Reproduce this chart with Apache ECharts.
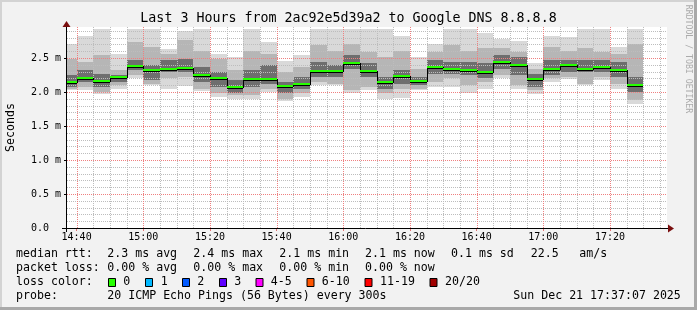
<!DOCTYPE html>
<html><head><meta charset="utf-8">
<script src="https://cdn.jsdelivr.net/npm/echarts@6/dist/echarts.min.js"></script>
<style>html,body{margin:0;padding:0;background:#f2f2f2}#c{width:697px;height:310px}</style>
</head><body><div id="c"></div>
<script>
// ---------- data ----------
const titleText = 'Last 3 Hours from 2ac92e5d39a2 to Google DNS 8.8.8.8';
const binStarts = ['14:35','14:40','14:45','14:50','14:55','15:00','15:05','15:10','15:15','15:20',
  '15:25','15:30','15:35','15:40','15:45','15:50','15:55','16:00','16:05','16:10',
  '16:15','16:20','16:25','16:30','16:35','16:40','16:45','16:50','16:55','17:00',
  '17:05','17:10','17:15','17:20','17:25'];
const viewStart = '14:37:07', viewEnd = '17:37:07';
const xTickLabels = ['14:40','15:00','15:20','15:40','16:00','16:20','16:40','17:00','17:20'];
const yTickValues = [0, 0.5, 1.0, 1.5, 2.0, 2.5];
const yMax = 2.956;
// median rtt (ms)
const medianRtt = [2.147,2.206,2.167,2.220,2.387,2.324,2.338,2.353,2.255,2.206,
  2.076,2.190,2.190,2.088,2.122,2.309,2.309,2.426,2.309,2.147,
  2.235,2.162,2.368,2.338,2.324,2.294,2.441,2.402,2.190,2.338,
  2.402,2.338,2.368,2.324,2.108];
// smoke extents (ms)
const smokeMax = [2.71,2.83,2.93,2.56,2.93,2.93,2.63,2.90,2.93,2.56,
  2.51,2.92,2.74,2.46,2.55,2.93,2.93,2.93,2.93,2.93,
  2.83,2.51,2.70,2.93,2.93,2.87,2.78,2.75,2.43,2.83,
  2.81,2.93,2.93,2.66,2.93];
const smokeMin = [2.025,2.025,1.975,2.04,2.20,2.11,2.04,2.09,2.01,1.93,
  1.90,1.90,2.00,1.87,1.93,2.11,2.10,1.99,2.03,1.90,
  1.91,2.03,2.07,2.07,1.99,2.05,2.20,2.05,1.97,2.14,
  2.19,2.11,2.17,2.05,1.83];
const midHi = [2.49,2.44,2.54,2.32,2.74,2.66,2.56,2.76,2.61,2.49,
  2.32,2.61,2.56,2.29,2.37,2.69,2.61,2.70,2.59,2.51,
  2.61,2.34,2.59,2.69,2.61,2.64,2.64,2.59,2.34,2.66,
  2.61,2.64,2.59,2.56,2.70];
const midLo = [2.05,2.07,2.00,2.10,2.25,2.12,2.20,2.22,2.05,1.98,
  1.95,1.95,2.05,1.90,1.98,2.15,2.12,2.03,2.07,1.98,
  2.05,2.05,2.15,2.20,2.10,2.15,2.25,2.10,2.03,2.20,
  2.22,2.12,2.22,2.12,1.88];
const coreHi = [2.25,2.32,2.27,2.25,2.47,2.39,2.47,2.49,2.37,2.29,
  2.17,2.32,2.39,2.15,2.22,2.44,2.39,2.54,2.42,2.22,
  2.32,2.22,2.47,2.44,2.44,2.42,2.54,2.51,2.27,2.47,
  2.47,2.47,2.47,2.44,2.22];
const coreLo = [2.07,2.15,2.07,2.15,2.32,2.17,2.29,2.29,2.15,2.07,
  1.98,2.07,2.12,1.98,2.05,2.22,2.22,2.34,2.22,2.05,
  2.12,2.10,2.27,2.27,2.25,2.20,2.34,2.25,2.07,2.25,
  2.29,2.29,2.29,2.22,2.00];
const binWidthMin = 5; // 300 s steps
// legend texts
const rttRow = ['median rtt:', '2.3 ms avg', '2.4 ms max', '2.1 ms min', '2.1 ms now', '0.1 ms sd', '22.5', 'am/s'];
const lossRow = ['packet loss:', '0.00 % avg', '0.00 % max', '0.00 % min', '0.00 % now'];
const lossLabels = ['0','1','2','3','4-5','6-10','11-19','20/20'];
const lossColors = ['#26ff00','#00b8ff','#0059ff','#5e00ff','#ff00ff','#ff5500','#ff0000','#a10000'];
const probeRow = ['probe:', '20 ICMP Echo Pings (56 Bytes) every 300s', 'Sun Dec 21 17:37:07 2025'];

// ---------- layout / styles ----------
const FONT = "'DejaVu Sans Mono', monospace";
const colX = [16, 107.3, 193.3, 279.3, 365, 451, 530.7, 579.3];
const probeX = [16, 107.3, 513.3];
const lossBoxX = [108.5, 145.5, 182.5, 219.5, 256, 307, 365, 430];
const lossTextX = [123.3, 160.7, 197.3, 234.3, 270.7, 321.7, 380, 445];
const rowY = [254.3, 268.3, 282.3, 296];

function toMin(s){ const p = s.split(':').map(Number); return (p[0]-14)*60 + p[1] + (p[2]||0)/60; }
function fmtMin(v){ const h = 14 + Math.floor(v/60), m = Math.round(v%60); return h + ':' + (m<10?'0':'') + m; }
const xMin = toMin(viewStart), xMax = toMin(viewEnd);

const smokeData = binStarts.map((s,i)=>[toMin(s), toMin(s)+binWidthMin, smokeMin[i], smokeMax[i], midLo[i], midHi[i], coreLo[i], coreHi[i]]);
const medianData = binStarts.map((s,i)=>[toMin(s), toMin(s)+binWidthMin, medianRtt[i], i>0?medianRtt[i-1]:medianRtt[i]]);

const chart = echarts.init(document.getElementById('c'), null, {renderer:'canvas', width:697, height:310});

function rectBetween(api, x0, x1, lo, hi, fill){
  const a = api.coord([Math.max(x0,xMin), hi]), b = api.coord([Math.min(x1,xMax), lo]);
  const L = Math.round(a[0]), R = Math.round(b[0]), T = Math.round(a[1]), B = Math.round(b[1]);
  return {type:'rect', shape:{x:L, y:T, width:R-L, height:B-T}, style:{fill:fill}};
}

const gridMinorX = [], gridMajorX = [];
for (let m = 40; m < xMax; m += 5) ((m % 20 === 0) ? gridMajorX : gridMinorX).push(m);
const gridMinorY = [], gridMajorY = [];
for (let i = 1; i/10 < yMax; i++) ((i % 5 === 0) ? gridMajorY : gridMinorY).push(i/10);

const option = {
  animation: false,
  backgroundColor: '#f2f2f2',
  grid: {left:67, top:27, width:600, height:201, show:true, backgroundColor:'#ffffff', borderWidth:0,
    containLabel:false, outerBoundsMode:'none'},
  xAxis: {
    type:'value', min:xMin, max:xMax,
    splitLine:{show:false},
    axisLine:{show:false},
    axisTick:{show:true, customValues: xTickLabels.map(toMin), length:3, lineStyle:{color:'#e07070'}},
    axisLabel:{customValues: xTickLabels.map(toMin), formatter: fmtMin, fontFamily:FONT, fontSize:10, color:'#000', margin:4}
  },
  yAxis: {
    type:'value', min:0, max:yMax,
    name:'Seconds', nameLocation:'middle', nameRotate:90, nameGap:50,
    nameTextStyle:{fontFamily:FONT, fontSize:11.6, color:'#000'},
    splitLine:{show:false},
    axisLine:{show:false},
    axisTick:{show:true, customValues: yTickValues, length:3, lineStyle:{color:'#000'}},
    axisLabel:{customValues: yTickValues, align:'left', margin:36, fontFamily:FONT, fontSize:10, color:'#000',
      formatter: v => v === 0 ? '0.0' : v.toFixed(1) + ' m'}
  },
  series: [
    { // smoke
      type:'custom', z:1, clip:true, silent:true,
      encode:{x:[0,1], y:[2,3]},
      data: smokeData,
      renderItem(params, api){
        const x0 = api.value(0), x1 = api.value(1);
        return {type:'group', children:[
          rectBetween(api, x0, x1, api.value(2), api.value(3), '#d9d9d9'),
          rectBetween(api, x0, x1, api.value(4), api.value(5), '#b6b6b6'),
          rectBetween(api, x0, x1, api.value(6), api.value(7), '#6e6e6e')
        ]};
      }
    },
    { // grid
      type:'custom', z:2, silent:true, clip:true,
      encode:{x:0, y:1},
      data: [[xMin, 0]],
      renderItem(params, api){
        const tl = api.coord([xMin, yMax]), br = api.coord([xMax, 0]);
        const ch = [];
        const vline = (v, c) => { const px = Math.round(api.coord([v,0])[0]) + 0.5;
          ch.push({type:'line', shape:{x1:px, y1:tl[1], x2:px, y2:br[1]}, style:{stroke:c, lineWidth:1, lineDash:[1,1]}}); };
        const hline = (v, c) => { const py = Math.round(api.coord([xMin,v])[1]) + 0.5;
          ch.push({type:'line', shape:{x1:tl[0], y1:py, x2:br[0], y2:py}, style:{stroke:c, lineWidth:1, lineDash:[1,1]}}); };
        gridMinorX.forEach(v => vline(v, '#bdbdbd'));
        gridMinorY.forEach(v => hline(v, '#bdbdbd'));
        gridMajorX.forEach(v => vline(v, '#ef8080'));
        gridMajorY.forEach(v => hline(v, '#ef8080'));
        return {type:'group', children: ch};
      }
    },
    { // median
      type:'custom', z:3, clip:true, silent:true,
      encode:{x:[0,1], y:2},
      data: medianData,
      renderItem(params, api){
        const x0 = Math.max(api.value(0), xMin), x1 = Math.min(api.value(1), xMax);
        const a = api.coord([x0, api.value(2)]), b = api.coord([x1, api.value(2)]);
        const p = api.coord([x0, api.value(3)]);
        const L = Math.round(a[0]), R = Math.round(b[0]), Y = Math.round(a[1]), PY = Math.round(p[1]);
        const ch = [];
        if (params.dataIndex > 0 && PY !== Y) {
          ch.push({type:'rect', shape:{x:L, y:Math.min(PY,Y), width:1, height:Math.abs(PY-Y)+1}, style:{fill:'#000'}});
        }
        ch.push({type:'rect', shape:{x:L, y:Y+1, width:R-L, height:1}, style:{fill:'#000'}});
        ch.push({type:'rect', shape:{x:L, y:Y-1, width:R-L, height:2}, style:{fill:lossColors[0]}});
        return {type:'group', children: ch};
      }
    }
  ],
  graphic: []
};

// decorations: frame, axis lines with arrows, title, legend rows, watermark
const g = [];
g.push({type:'rect', shape:{x:0, y:0, width:697, height:2}, style:{fill:'#d3d3d3'}, silent:true});
g.push({type:'rect', shape:{x:0, y:0, width:2, height:310}, style:{fill:'#d3d3d3'}, silent:true});
g.push({type:'rect', shape:{x:0, y:307, width:697, height:3}, style:{fill:'#a9a9a9'}, silent:true});
g.push({type:'rect', shape:{x:694, y:0, width:3, height:310}, style:{fill:'#a9a9a9'}, silent:true});
g.push({type:'line', shape:{x1:62, y1:228.5, x2:669, y2:228.5}, style:{stroke:'#000', lineWidth:1}, z:100});
g.push({type:'line', shape:{x1:66.5, y1:232, x2:66.5, y2:26}, style:{stroke:'#000', lineWidth:1}, z:100});
g.push({type:'polygon', shape:{points:[[668,224.5],[668,232.5],[674,228.5]]}, style:{fill:'#7a0f0f'}, z:100});
g.push({type:'polygon', shape:{points:[[62.5,27],[70.5,27],[66.5,21]]}, style:{fill:'#7a0f0f'}, z:100});
g.push({type:'text', x:348.5, y:19, style:{text:titleText, font:'13.3px ' + FONT, fill:'#000', align:'center', verticalAlign:'middle'}});
const T = (txt, x, y) => g.push({type:'text', x:x, y:y, style:{text:txt, font:'11.6px ' + FONT, fill:'#000', align:'left', verticalAlign:'middle'}});
rttRow.forEach((t,i) => T(t, colX[i], rowY[0]));
lossRow.forEach((t,i) => T(t, colX[i], rowY[1]));
T('loss color:', 16, rowY[2]);
lossLabels.forEach((t,i) => {
  g.push({type:'rect', shape:{x:lossBoxX[i], y:278.5, width:7, height:8}, style:{fill:lossColors[i], stroke:'#000', lineWidth:1}});
  T(t, lossTextX[i], rowY[2]);
});
probeRow.forEach((t,i) => T(t, probeX[i], rowY[3]));
g.push({type:'text', x:688, y:59, rotation:-Math.PI/2, style:{text:'RRDTOOL / TOBI OETIKER', font:'8.2px ' + FONT, fill:'#ababab', align:'center', verticalAlign:'middle'}});
option.graphic = g;

chart.setOption(option);
</script>
</body></html>
